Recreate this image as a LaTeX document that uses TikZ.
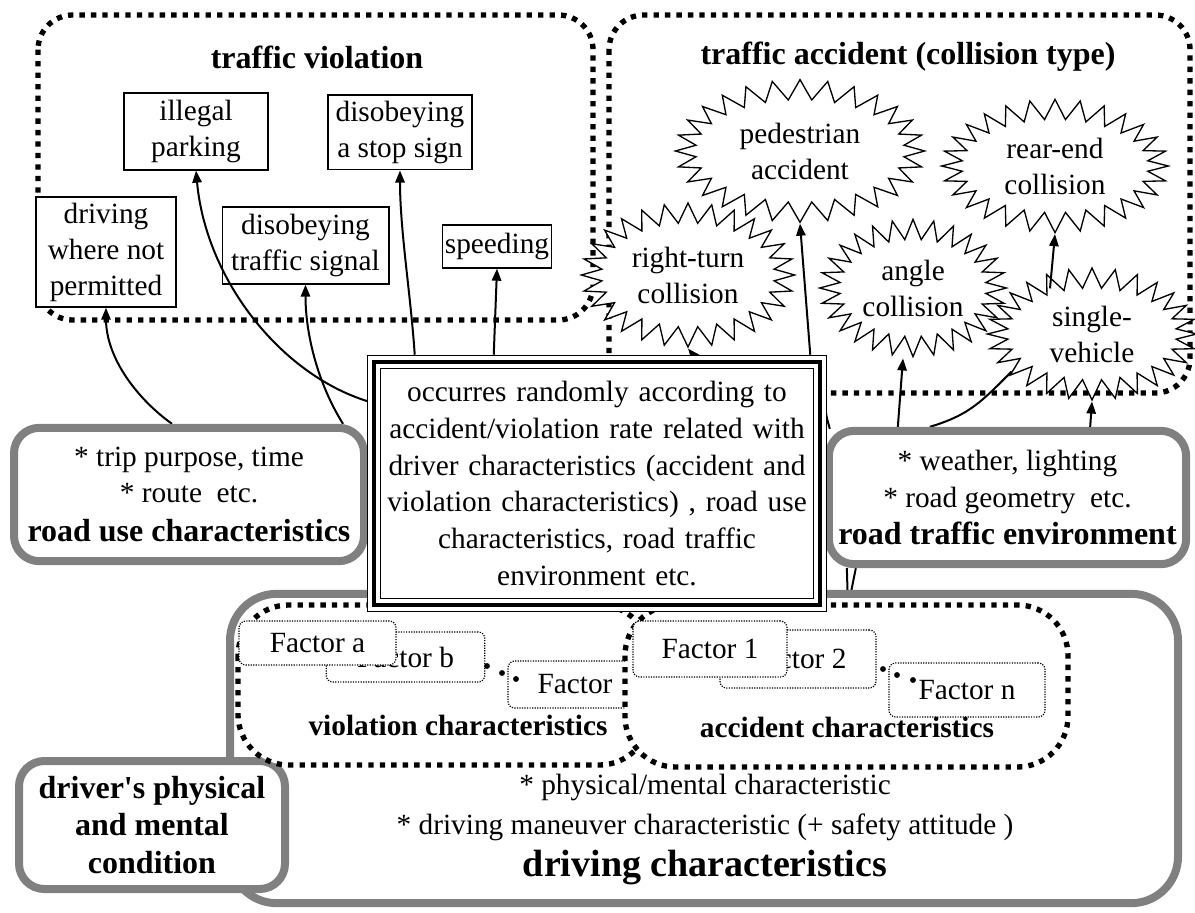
\documentclass[tikz,border=0pt]{standalone}
\usepackage{fontspec}
\setmainfont{Liberation Serif}
\usetikzlibrary{shapes.symbols,arrows.meta,calc}
\pgfdeclarelayer{back}
\pgfdeclarelayer{mid}
\pgfsetlayers{back,mid,main}

\tikzset{every picture/.style={line width=0.75pt}}
\tikzset{
  regionline/.style={line width=4pt, dash pattern=on 4pt off 4.6pt},
  titletext/.style={font=\fontsize{24}{28}\selectfont\bfseries},
  chartext/.style={font=\fontsize{22}{26}\selectfont\bfseries},
  typebox/.style={draw, line width=1pt, fill=white, align=center, inner sep=1pt,
    font=\fontsize{22}{27}\selectfont},
  burst/.style={starburst, draw, line width=1pt, fill=white, starburst points=28,
    random starburst=0, starburst point height=15pt, align=center, inner sep=0pt,
    font=\fontsize{22}{27}\selectfont},
  graybox/.style={draw=gray, line width=6pt, fill=white, rounded corners=19pt,
    align=center},
  factorbox/.style={draw, densely dotted, line width=0.9pt, fill=white,
    rounded corners=5pt, inner sep=1pt, font=\fontsize{22}{26}\selectfont},
  link/.style={line width=1.5pt, -{Triangle[length=9pt,width=7pt]}},
  plainlink/.style={line width=1.5pt},
}

\begin{document}
\begin{tikzpicture}[x=0.75pt,y=0.75pt,yscale=-1,xscale=1]
\useasboundingbox (0,0) rectangle (1195,913);

\begin{pgfonlayer}{back}
	%Region: traffic violation
	\draw[regionline, rounded corners=26pt] (38,15) rectangle (593,320);
	%Region: traffic accident
	\draw[regionline, rounded corners=26pt] (609,15) rectangle (1190,393);
	\node[titletext] (viotitle) at (317,57) {traffic violation};
	\node[titletext] (acctitle) at (908,57) {traffic accident (collision type)};
	
	%violation types
	\node[typebox, minimum width=108pt, minimum height=57.75pt] (park) at (196,131.5) {illegal\\parking};
	\node[typebox, minimum width=108pt, minimum height=56pt] (stop) at (400,132.5) {disobeying\\a stop sign};
	\node[typebox, minimum width=105pt, minimum height=82.5pt] (drive) at (106,252) {driving\\where not\\permitted};
	\node[typebox, minimum width=125pt, minimum height=57.75pt] (signal) at (305.5,245.5) {disobeying\\traffic signal};
	\node[typebox, minimum width=82pt, minimum height=32.25pt] (speed) at (497,246.5) {speeding};
	
	%collision types
	\node[burst, minimum width=187pt, minimum height=107pt] (ped) at (800,151) {pedestrian\\accident};
	\node[burst, minimum width=170pt, minimum height=100pt] (rear) at (1055,166) {rear-end\\collision};
	\node[burst, minimum width=160pt, minimum height=108pt] (rturn) at (688,275) {right-turn\\collision};
	\node[burst, minimum width=140pt, minimum height=103pt] (angle) at (913,288) {angle\\collision};
	\node[burst, minimum width=157pt, minimum height=99pt] (single) at (1092,334) {single-\\vehicle};
\end{pgfonlayer}

%Driving characteristics
\node[graybox, rounded corners=35pt, minimum width=711pt, minimum height=232pt] (drvchar) at (704,748.5) {};
\node[align=center, font=\fontsize{22}{30.5}\selectfont] (drvtxt) at (705,807.5) {* physical/mental characteristic\\* driving maneuver characteristic (+ safety attitude )};
\node[font=\fontsize{28.5}{32}\selectfont\bfseries] (drvname) at (705,868) {driving characteristics};
\node[graybox, minimum width=199.5pt, minimum height=96pt, font=\fontsize{24}{28}\selectfont\bfseries] (cond) at (152,825) {driver\textquotesingle s physical\\and mental\\condition};

%violation characteristics
\draw[regionline, fill=white, rounded corners=38pt] (238,605) rectangle (650,765);
\node[factorbox, minimum width=119pt, minimum height=37.5pt] (fb) at (405.5,657) {Factor b};
\node[factorbox, minimum width=117.75pt, minimum height=33pt] (fa) at (317.5,643) {Factor a};
\node[factorbox, minimum width=100.5pt, minimum height=35.25pt] (fc) at (575,684.5) {Factor};
\foreach \p in {(487,666),(502,673),(516,679)}
	\fill \p circle (2.2pt);
\node[chartext] (viochar) at (458,725) {violation characteristics};

%accident characteristics
\draw[regionline, fill=white, rounded corners=38pt] (625,605) rectangle (1068,767);
\node[factorbox, minimum width=117pt, minimum height=43.5pt] (f2) at (798,659) {Factor 2};
\node[factorbox, minimum width=115.5pt, minimum height=42pt] (f1) at (710,649) {Factor 1};
\node[factorbox, minimum width=117pt, minimum height=40.5pt] (fn) at (967,690) {Factor n};
\foreach \p in {(883,669),(897,675),(913,680)}
	\fill \p circle (2.2pt);
\node[chartext] (accchar) at (847,727) {accident characteristics};

%road use / road traffic environment
\node[graybox, minimum width=262.5pt, minimum height=100pt, font=\fontsize{22}{27}\selectfont] (use) at (189,494.5) {* trip purpose, time\\* route~ etc.\\[2pt]{\fontsize{24}{28}\selectfont\bfseries road use characteristics}};
\node[graybox, minimum width=268pt, minimum height=100pt, font=\fontsize{22}{28}\selectfont] (env) at (1007.5,497.5) {* weather, lighting\\* road geometry~ etc.\\{\fontsize{24}{28}\selectfont\bfseries road traffic environment}};

%Central box
\node[fill=white, minimum width=345pt, minimum height=192.75pt, inner sep=0pt, text width=330pt, align=center, font=\fontsize{22}{27.5}\selectfont] (occ) at (597,483.5) {occurres randomly according to\\accident/violation rate related with\\driver characteristics (accident and\\violation characteristics) , road use\\characteristics, road traffic\\environment etc.};
\draw[line width=1pt] ([shift={(1,1)}]occ.north west) rectangle ([shift={(-1,-1)}]occ.south east);
\draw[line width=2.8pt] ([shift={(7.5,7.5)}]occ.north west) rectangle ([shift={(-7.5,-7.5)}]occ.south east);
\draw[line width=1pt] ([shift={(14,14)}]occ.north west) rectangle ([shift={(-14,-14)}]occ.south east);

\coordinate (acctop) at (848,607);

\begin{pgfonlayer}{mid}
	\draw[link] ($(use.north)+(-17,0)$) .. controls +(-35,-25) and +(0,50) .. (drive.south);
	\draw[link] ($(use.north)+(154,0)$) .. controls +(-25,-40) and +(0,50) .. (signal.south);
	\draw[link] ($(occ.north west)+(6,48)$) .. controls +(-90,-25) and +(10,110) .. (park.south);
	\draw[link] ($(occ.north west)+(48,0)$) .. controls +(-4,-60) and +(0,60) .. (stop.south);
	\draw[link] ($(occ.north west)+(127,0)$) -- (speed.south);
	\draw[link] ($(occ.north)+(96,0)$) -- (rturn.south);
	\draw[link] ($(occ.north east)+(-17,0)$) -- (ped.south);
	\draw[link] ($(env.north west)+(73,0)$) -- ($(angle.south)+(-10,0)$);
	\draw[plainlink] ($(env.north west)+(105,0)$) .. controls +(40,-12) and +(-30,30) .. (single.205);
	\draw[link] ($(env.north east)+(-100,0)$) -- (single.south);
	\draw[link] ($(single.north)+(-42,22)$) -- (rear.south);
	\draw[plainlink] ($(env.north west)+(5,2)$) .. controls +(-4,-14) .. ($(occ.north east)+(-2,45)$);
	\draw[plainlink] ($(env.south west)+(22,0)$) -- (acctop);
	\draw[plainlink] ($(env.south west)+(31,0)$) -- (acctop);
\end{pgfonlayer}

\end{tikzpicture}
\end{document}
